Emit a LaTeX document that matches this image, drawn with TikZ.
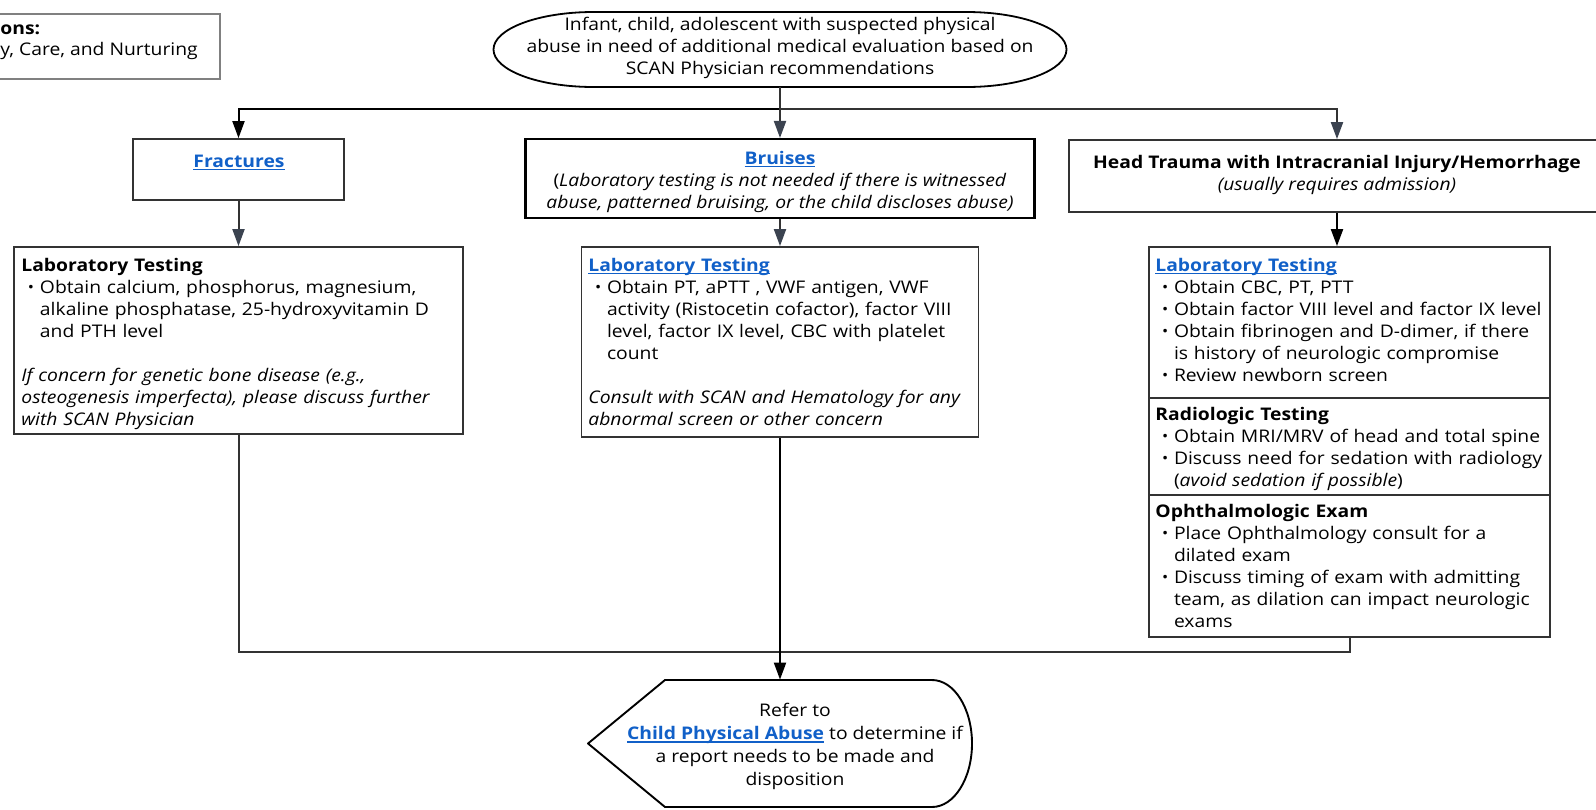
\documentclass[tikz,border=0pt]{standalone}
\usepackage{fontspec}
\setmainfont{Open Sans}[FakeStretch=1.11]
\usetikzlibrary{arrows.meta}
\definecolor{linkblue}{HTML}{1160C8}
\definecolor{linegray}{HTML}{333333}
\definecolor{arrowgray}{HTML}{3B4350}
\newcommand\lnk[1]{\textcolor{linkblue}{\setbox0\hbox{#1}\rlap{\rule[-1.4pt]{\wd0}{0.55pt}}\box0}}
\newcommand\bul{\makebox[9.3pt][l]{\hspace{3.3pt}\raisebox{0.3pt}{\scalebox{0.85}{•}}}}
\newcommand\ind{\hspace*{9.3pt}}
\tikzset{
  every node/.style={font=\fontsize{8.7pt}{11pt}\selectfont},
  box/.style={draw=linegray, line width=0.9pt, rectangle, inner sep=0pt},
  txt/.style={inner sep=0pt, align=left, anchor=north west, text width=250pt},
  ctxt/.style={inner sep=0pt, align=center, anchor=north},
  conn/.style={draw=linegray, line width=1pt},
  arrblack/.style={-{Triangle[width=6pt,length=8.5pt]}},
  arrgray/.style={-{Triangle[width=6pt,length=8.5pt,color=arrowgray]}},
}
\begin{document}
\begin{tikzpicture}[x=0.5pt,y=-0.5pt]
\useasboundingbox (0,0) rectangle (1596,809);
\clip (0,0) rectangle (1596,809);
% legend
\node[box, draw=gray, minimum width=114.5pt, minimum height=32.5pt, anchor=north west] (legend) at (-10,13) {};
\node[inner sep=0pt, anchor=base west, font=\fontsize{8.7pt}{11pt}\selectfont\bfseries] (legt1) at (0,34) {ons:};
\node[inner sep=0pt, anchor=base west] (legt2) at (0,55) {y, Care, and Nurturing};
% start (rounded oval)
\node[inner sep=0pt, minimum width=286.5pt, minimum height=37.5pt] (start) at (780,49.5) {};
\draw[draw=black, line width=0.9pt] (493.5,49.5) arc[start angle=180, end angle=270, x radius=100, y radius=37.5]
  -- (966.5,12) arc[start angle=270, end angle=450, x radius=100, y radius=37.5]
  -- (593.5,87) arc[start angle=90, end angle=180, x radius=100, y radius=37.5] -- cycle;
\node[ctxt, anchor=center] (startt) at (780,48) {Infant, child, adolescent with suspected physical\\abuse in need of additional medical evaluation based on\\SCAN Physician recommendations};
% level 1 boxes
\node[box, minimum width=105.5pt, minimum height=30.5pt] (frac) at (238.5,169.5) {};
\node[inner sep=0pt, anchor=base, font=\fontsize{8.7pt}{11pt}\selectfont\bfseries] (fract) at (239,167) {\lnk{Fractures}};
\node[box, draw=black, line width=1.05pt, minimum width=254.5pt, minimum height=39.5pt] (br) at (780,178.5) {};
\node[ctxt] (brt) at (780,148.6) {\strut\lnk{\textbf{Bruises}}\\(\textit{Laboratory testing is not needed if there is witnessed}\\\textit{abuse, patterned bruising, or the child discloses abuse)}};
\node[box, minimum width=268pt, minimum height=36pt] (head) at (1337,176) {};
\node[ctxt] (headt) at (1337,152.6) {\strut\textbf{Head Trauma with Intracranial Injury/Hemorrhage}\\\textit{(usually requires admission)}};
% level 2 boxes
\node[box, minimum width=224.5pt, minimum height=93.5pt] (fraclab) at (238.5,340.5) {};
\node[txt] (fraclabt) at (21,255.6) {\strut\textbf{Laboratory Testing}\\
\bul Obtain calcium, phosphorus, magnesium,\\
\ind alkaline phosphatase, 25-hydroxyvitamin D\\
\ind and PTH level\\[11pt]
\textit{If concern for genetic bone disease (e.g.,}\\
\textit{osteogenesis imperfecta), please discuss further}\\
\textit{with SCAN Physician}};
\node[box, minimum width=198.5pt, minimum height=95pt] (brlab) at (780,342) {};
\node[txt] (brlabt) at (588,255.6) {\strut\lnk{\textbf{Laboratory Testing}}\\
\bul Obtain PT, aPTT , VWF antigen, VWF\\
\ind activity (Ristocetin cofactor), factor VIII\\
\ind level, factor IX level, CBC with platelet\\
\ind count\\[11pt]
\textit{Consult with SCAN and Hematology for any}\\
\textit{abnormal screen or other concern}};
\node[box, minimum width=200.5pt, minimum height=75.5pt] (headlab) at (1349.5,322.5) {};
\node[txt] (headlabt) at (1155,255.6) {\strut\lnk{\textbf{Laboratory Testing}}\\
\bul Obtain CBC, PT, PTT\\
\bul Obtain factor VIII level and factor IX level\\
\bul Obtain fibrinogen and D-dimer, if there\\
\ind is history of neurologic compromise\\
\bul Review newborn screen};
\node[box, minimum width=200.5pt, minimum height=48.5pt] (headrad) at (1349.5,446.5) {};
\node[txt] (headradt) at (1155,404.6) {\strut\textbf{Radiologic Testing}\\
\bul Obtain MRI/MRV of head and total spine\\
\bul Discuss need for sedation with radiology\\
\ind (\textit{avoid sedation if possible})};
\node[box, minimum width=200.5pt, minimum height=71pt] (headoph) at (1349.5,566) {};
\node[txt] (headopht) at (1155,501.6) {\strut\textbf{Ophthalmologic Exam}\\
\bul Place Ophthalmology consult for a\\
\ind dilated exam\\
\bul Discuss timing of exam with admitting\\
\ind team, as dilation can impact neurologic\\
\ind exams};
% refer shape
\node[inner sep=0pt, minimum width=192pt, minimum height=63.5pt] (refer) at (780,743.5) {};
\draw[draw=black, line width=0.95pt, line join=round] (588,743.5) -- (665,680) -- (932,680) arc[start angle=-90, end angle=90, x radius=40, y radius=63.5] -- (665,807) -- cycle;
\node[ctxt, font=\fontsize{8.7pt}{11.4pt}\selectfont] (refert) at (795,700.6) {\strut Refer to\\\lnk{\textbf{Child Physical Abuse}} to determine if\\a report needs to be made and\\disposition};
% connectors
\coordinate (topbus) at (0,109);
\coordinate (botbus) at (0,652);
\draw[conn, draw=black] (start.south) -- (start.south |- topbus);
\draw[conn, draw=black, arrblack] (start.south |- topbus) -| (frac.north);
\draw[conn, arrgray] (start.south |- topbus) -| (head.north);
\draw[conn, arrgray] (start.south) -- (br.north);
\draw[conn, arrgray] (frac.south) -- (fraclab.north);
\draw[conn, arrgray] (br.south) -- (brlab.north);
\draw[conn, draw=black, arrblack] (head.south) -- (head.south |- headlab.north);
\draw[conn] (fraclab.south) -- (fraclab.south |- botbus) -- (headoph.south |- botbus) -- (headoph.south);
\draw[conn, draw=black, arrblack] (brlab.south) -- (refer.north);
\end{tikzpicture}
\end{document}
